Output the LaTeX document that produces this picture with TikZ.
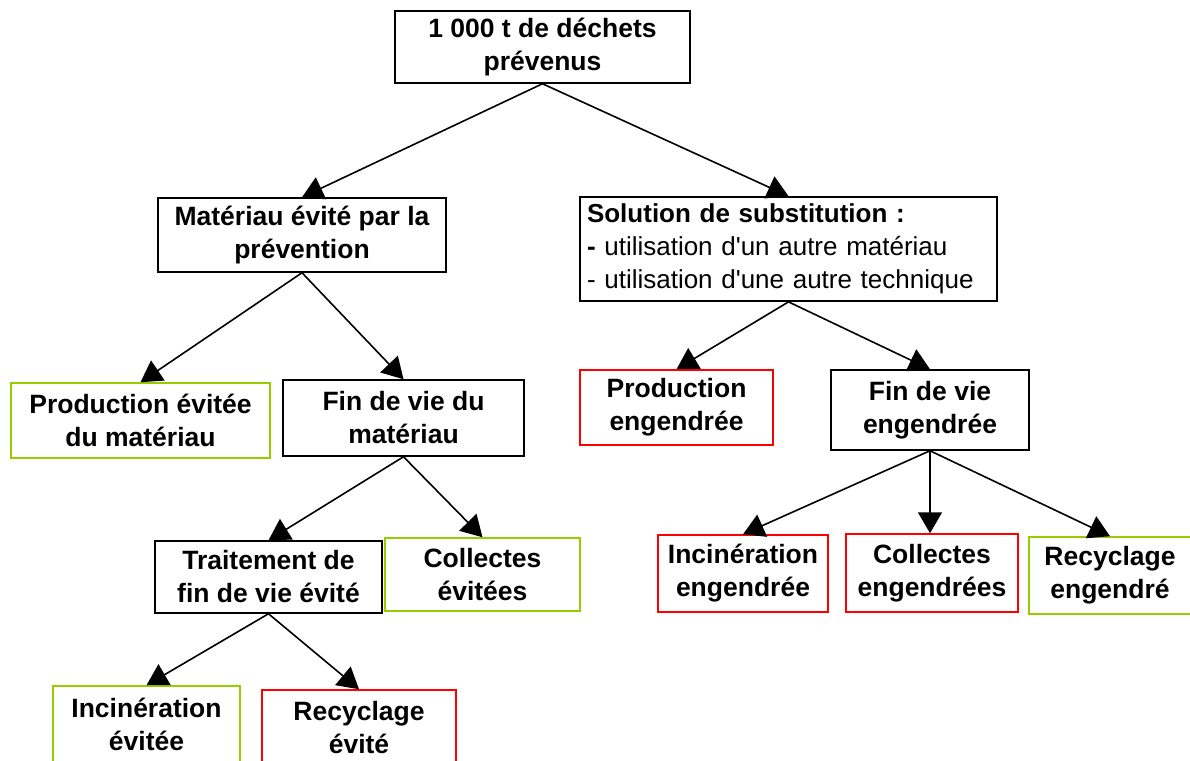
\documentclass[tikz,border=0pt]{standalone}
\usepackage{fontspec}
\setmainfont{Liberation Sans}
\usetikzlibrary{arrows.meta}
\definecolor{avoidgreen}{RGB}{153, 204, 0}
\definecolor{causedred}{RGB}{255, 0, 0}

\begin{document}
\begin{tikzpicture}[x=1pt, y=-1pt,
  box/.style={draw, line width=1.5pt, align=center, inner sep=2pt,
    font=\fontsize{26.5}{33}\selectfont\bfseries},
  greenbox/.style={box, draw=avoidgreen},
  redbox/.style={box, draw=causedred},
  arr/.style={-{Triangle[length=21pt, width=24pt]}, line width=1.6pt}]
  \useasboundingbox (0,0) rectangle (1190,760);
  \clip (0,0) rectangle (1190,760);

  % === root ===
  \node[box, minimum width=295pt, minimum height=72pt] (prevenus) at (542.5, 47) {1 000 t de déchets\\prévenus};

  % === avoided material branch ===
  \node[box, minimum width=288pt, minimum height=74pt] (materiau) at (302, 235) {Matériau évité par la\\prévention};
  \node[greenbox, minimum width=259pt, minimum height=75pt] (prodevitee) at (140.5, 420.5) {Production évitée\\du matériau};
  \node[box, minimum width=241pt, minimum height=76pt] (finmat) at (403.5, 418) {Fin de vie du\\matériau};
  \node[box, minimum width=227pt, minimum height=72pt] (traitement) at (268.5, 577) {Traitement de\\fin de vie évité};
  \node[greenbox, minimum width=195pt, minimum height=73pt] (collevitees) at (482.5, 574.5) {Collectes\\évitées};
  \node[greenbox, minimum width=187pt, minimum height=76pt] (incinevitee) at (146.5, 724) {Incinération\\évitée};
  \node[redbox, minimum width=194pt, minimum height=76pt] (recycevite) at (359, 728) {Recyclage\\évité};

  % === substitution branch ===
  \node[box, minimum width=417pt, minimum height=102pt, text width=403pt, align=left, inner sep=7pt,
    font=\fontsize{26}{33}\selectfont] (substitution) at (788.5, 249)
    {\textbf{Solution de substitution :}\\\textbf{-} utilisation d\textquotesingle un autre matériau\\- utilisation d\textquotesingle une autre technique};
  \node[redbox, minimum width=193pt, minimum height=75pt] (prodeng) at (676.5, 407.5) {Production\\engendrée};
  \node[box, minimum width=198pt, minimum height=80pt] (fineng) at (930, 410) {Fin de vie\\engendrée};
  \node[redbox, minimum width=170pt, minimum height=77pt] (incineng) at (743, 573.5) {Incinération\\engendrée};
  \node[redbox, minimum width=172pt, minimum height=78pt] (colleng) at (932, 573) {Collectes\\engendrées};
  \node[greenbox, minimum width=162pt, minimum height=77pt] (recyceng) at (1110, 575.5) {Recyclage\\engendré};

  % === arrows ===
  \draw[arr] (prevenus.south) -- (materiau.north);
  \draw[arr] (prevenus.south) -- (substitution.north);
  \draw[arr] (materiau.south) -- (prodevitee.north);
  \draw[arr] (materiau.south) -- (finmat.north);
  \draw[arr] (finmat.south) -- (traitement.north);
  \draw[arr] (finmat.south) -- (collevitees.north);
  \draw[arr] (traitement.south) -- (incinevitee.north);
  \draw[arr] (traitement.south) -- (recycevite.north);
  \draw[arr] (substitution.south) -- (prodeng.north);
  \draw[arr] (substitution.south) -- (fineng.north);
  \draw[arr] (fineng.south) -- (incineng.north);
  \draw[arr] (fineng.south) -- (fineng.south |- colleng.north);
  \draw[arr] (fineng.south) -- (recyceng.north);
\end{tikzpicture}
\end{document}
